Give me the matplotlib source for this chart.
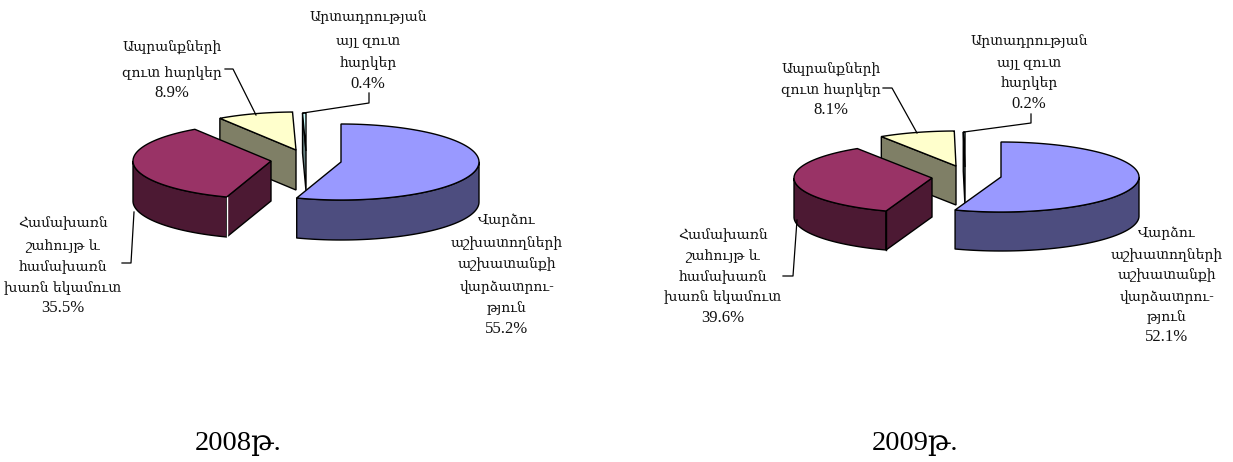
import numpy as np
import matplotlib
matplotlib.use('Agg')
import matplotlib.pyplot as plt
from matplotlib.patches import Polygon

# ===== data =====
names = [
    ['Վարձու', 'աշխատողների', 'աշխատանքի', 'վարձատրու-', 'թյուն'],
    ['Համախառն', 'շահույթ և', 'համախառն', 'խառն եկամուտ'],
    ['Ապրանքների', 'զուտ հարկեր'],
    ['Արտադրության', 'այլ զուտ', 'հարկեր'],
]
years = ['2008թ.', '2009թ.']
values_2008 = [55.2, 35.5, 8.9, 0.4]
values_2009 = [52.1, 39.6, 8.1, 0.2]
# the 2009 slices in the picture are not cut to the printed numbers, these are measured
drawn_2009 = [55.4, 35.5, 8.9, 0.2]

top_colors = ['#9999FF', '#993366', '#FFFFCC', '#CCFFFF']
side_colors = ['#4D4D7F', '#4C1933', '#7F7F66', '#667F7F']

# ===== layout (pixels) =====
W, H = 1233, 462
SERIF = 'Liberation Serif'
ARM = 'DejaVu Serif'
ARM_SIZE = 10.0
PCT_SIZE = 12.0


def draw_slice(ax, cx, cy, a, b, depth, start, end, top, side, seam=None):
    th = np.radians(np.linspace(start, end, 120))
    xs = cx + a * np.sin(th)
    ys = cy - b * np.cos(th)
    # outer wall: only the front half of the rim shows
    front = np.cos(th) <= 0
    if front.any():
        fx, fy = xs[front], ys[front]
        wall = np.column_stack([np.r_[fx, fx[::-1]], np.r_[fy, fy[::-1] + depth]])
        ax.add_patch(Polygon(wall, fc=side, ec='black', lw=1.0, joinstyle='round'))
    # cut face, visible when it looks towards the viewer
    if np.sin(th[0]) < 0:
        face = [(cx, cy), (xs[0], ys[0]), (xs[0], ys[0] + depth), (cx, cy + depth)]
        ax.add_patch(Polygon(face, fc=side, ec='black', lw=1.0))
        if seam:
            ax.plot([xs[0], xs[0]], [ys[0], ys[0] + depth], color=seam, lw=1.0, zorder=1)
    pts = np.column_stack([np.r_[cx, xs], np.r_[cy, ys]])
    ax.add_patch(Polygon(pts, fc=top, ec='black', lw=1.0))


def draw_pie(ax, shares, centers, a, b, depth, seam):
    ends = np.cumsum(shares) * 3.6
    starts = np.r_[0, ends[:-1]]
    # back slices first
    for i in [3, 2, 1, 0]:
        cx, cy = centers[i]
        draw_slice(ax, cx, cy, a, b, depth, starts[i], ends[i],
                   top_colors[i], side_colors[i], seam if i == 1 else None)


def draw_label(ax, x, ys, lines, value):
    for y, line in zip(ys, lines):
        ax.text(x, y, line, family=ARM, fontsize=ARM_SIZE, ha='center', va='center', color='#111111')
    ax.text(x, ys[-1], f'{value}%', family=SERIF, fontsize=PCT_SIZE, ha='center', va='center', color='#111111')


fig = plt.figure(figsize=(W / 100, H / 100), dpi=100)
ax = fig.add_axes([0, 0, 1, 1])
ax.set_xlim(0, W)
ax.set_ylim(H, 0)
ax.axis('off')

# ---- 2008 ----
draw_pie(ax, values_2008, [(341, 162), (271, 161), (296, 150), (306, 151)], 138, 38, 40, 'white')
draw_label(ax, 507, [220, 243, 265, 287, 308, 329], names[0], values_2008[0])
draw_label(ax, 63, [223, 246, 267, 288, 308], names[1], values_2008[1])
draw_label(ax, 172, [48, 73, 93], names[2], values_2008[2])
draw_label(ax, 368, [17, 41, 63, 84], names[3], values_2008[3])
ax.plot([122, 131, 134], [263, 263, 212], color='black', lw=0.9)
ax.plot([225, 233, 256], [69, 69, 115], color='black', lw=0.9)
ax.plot([303, 369, 369], [113, 103, 93], color='black', lw=0.9)
ax.text(195, 444, years[0], family=[SERIF, ARM], fontsize=20.5, ha='left', va='center', color='black')

# ---- 2009 ----
draw_pie(ax, drawn_2009, [(1001, 177), (932, 178), (956, 166), (965, 167)], 138, 35, 39, 'black')
draw_label(ax, 1167, [233, 255, 276, 297, 317, 337], names[0], values_2009[0])
draw_label(ax, 723, [235, 256, 277, 297, 318], names[1], values_2009[1])
draw_label(ax, 831, [70, 90, 110], names[2], values_2009[2])
draw_label(ax, 1029, [41, 63, 83, 104], names[3], values_2009[3])
ax.plot([783, 793, 797], [276, 276, 220], color='black', lw=0.9)
ax.plot([883, 892, 917], [88, 88, 133], color='black', lw=0.9)
ax.plot([964, 1031, 1031], [132, 123, 114], color='black', lw=0.9)
ax.text(872, 444, years[1], family=[SERIF, ARM], fontsize=20.5, ha='left', va='center', color='black')

fig.savefig('out.png', dpi=100)
plt.close(fig)
